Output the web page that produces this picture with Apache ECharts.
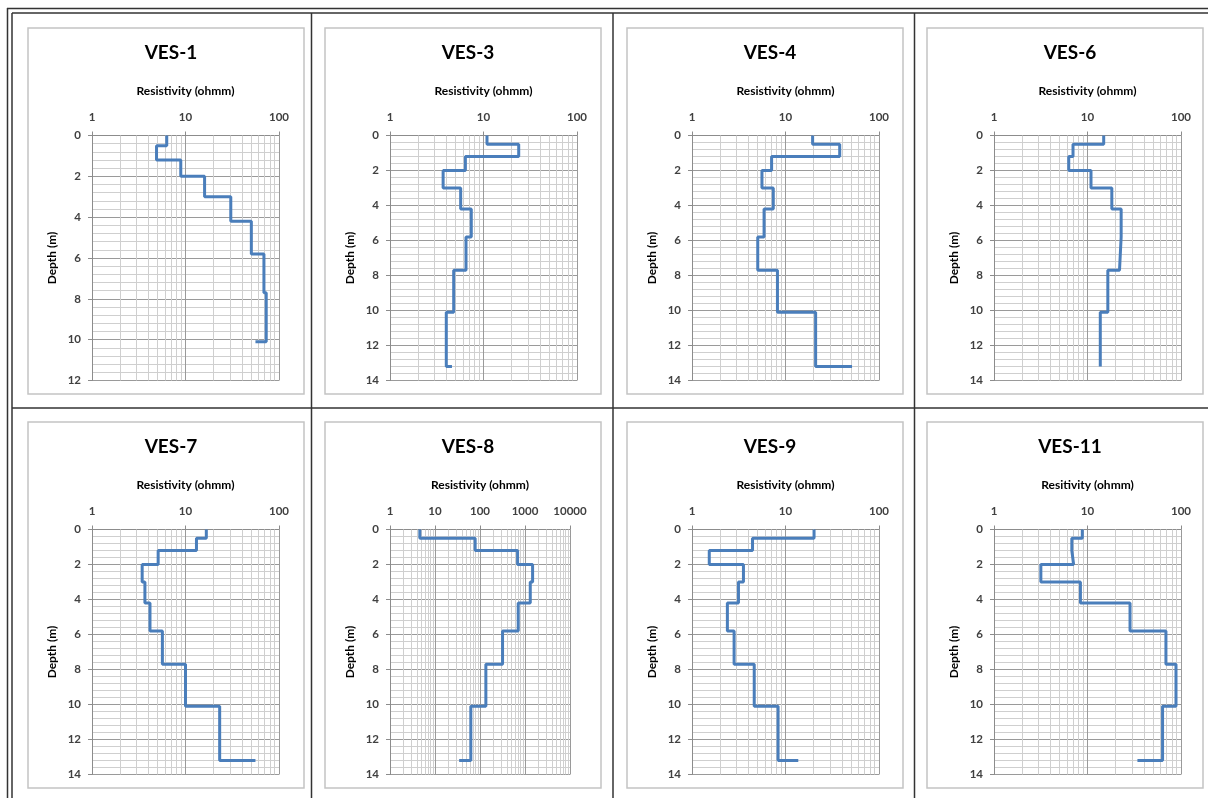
<!DOCTYPE html>
<html>
<head>
<meta charset="utf-8">
<script src="https://cdn.jsdelivr.net/npm/echarts@6/dist/echarts.min.js"></script>
<style>
  html, body { margin: 0; padding: 0; background: #fff; }
  #main { width: 1208px; height: 798px; }
</style>
</head>
<body>
<div id="main"></div>
<script>
// layer tops in metres, same layering for every sounding
const layerTops = [0, 0.5, 1.2, 2.0, 3.0, 4.2, 5.8, 7.7, 10.1, 13.2];

const stations = ['VES-1', 'VES-3', 'VES-4', 'VES-6', 'VES-7', 'VES-8', 'VES-9', 'VES-11'];
const xTitles = ['Resistivity (ohmm)', 'Resistivity (ohmm)', 'Resistivity (ohmm)', 'Resistivity (ohmm)',
                 'Resistivity (ohmm)', 'Resistivity (ohmm)', 'Resistivity (ohmm)', 'Resitivity (ohmm)'];
const depthMax = [12, 14, 14, 14, 14, 14, 14, 14];
const rhoMax = [100, 100, 100, 100, 100, 10000, 100, 100];

// resistivity per layer (ohmm), last value = half-space stub
const ves1 = [6.3, 4.9, 8.9, 16, 30.5, 50.6, 69, 73, 56];
const ves3 = [10.9, 23.8, 6.4, 3.7, 5.7, 7.4, 6.5, 4.8, 4.0, 4.6];
const ves4 = [19.5, 38, 7.1, 5.6, 7.4, 5.9, 5.05, 8.2, 21, 51.5];
const ves6 = [14.9, 7.0, 6.3, 10.9, 18.2, 22.9, 22.0, 16.5, 13.7, 13.9];
const ves7 = [16.7, 13.1, 5.1, 3.44, 3.68, 4.17, 5.66, 10, 23.2, 56];
const ves8 = [4.6, 78, 684, 1475, 1309, 707, 317, 135, 62.5, 34.4];
const ves9 = [20.2, 4.44, 1.53, 3.55, 3.14, 2.39, 2.82, 4.63, 8.33, 13.7];
const ves11 = [8.8, 6.8, 7.1, 3.17, 8.4, 28.5, 69, 88.4, 63.5, 34.2];
const profiles = [ves1, ves3, ves4, ves6, ves7, ves8, ves9, ves11];

// page layout
const boxLeft = [28, 325, 627, 927];
const boxTop = [28, 422];
const boxW = 276, boxH = 366;
const plotLeft = [92, 390, 692, 994];
const FONT = 'Lato, "Liberation Sans", sans-serif';

function stepPoints(rho) {
  const pts = [];
  for (let i = 0; i < rho.length - 1; i++) {
    pts.push([rho[i], layerTops[i]]);
    pts.push([rho[i], layerTops[i + 1]]);
  }
  pts.push([rho[rho.length - 1], layerTops[rho.length - 1]]);
  return pts;
}

// minor gridlines 2..9 inside each decade
function logMinor(max) {
  const v = [];
  for (let d = 1; d < max; d *= 10) {
    for (let k = 2; k <= 9; k++) v.push({ xAxis: k * d });
  }
  return v;
}

const chart = echarts.init(document.getElementById('main'));

const titles = [], grids = [], xAxes = [], yAxes = [], series = [];
const graphics = [];

for (let i = 0; i < stations.length; i++) {
  const col = i % 4, row = Math.floor(i / 4);
  const bx = boxLeft[col], by = boxTop[row];

  graphics.push({
    type: 'rect', z: 0,
    shape: { x: bx, y: by, width: boxW, height: boxH },
    style: { fill: 'none', stroke: '#c4c4c4', lineWidth: 1.5 }
  });

  titles.push({
    text: stations[i],
    left: bx + boxW / 2,
    top: by + 10,
    textAlign: 'center',
    textStyle: { fontFamily: FONT, fontSize: 19, fontWeight: 'bold', color: '#000' }
  });

  grids.push({
    left: plotLeft[col],
    top: by + 107.5,
    width: rhoMax[i] > 100 ? 180 : 187,
    height: 245,
    outerBoundsMode: 'none'
  });

  xAxes.push({
    type: 'log',
    logBase: 10,
    gridIndex: i,
    position: 'top',
    min: 1,
    max: rhoMax[i],
    name: xTitles[i],
    nameLocation: 'middle',
    nameGap: 38,
    nameTextStyle: { fontFamily: FONT, fontSize: 12, fontWeight: 'bold', color: '#000' },
    axisLine: { show: true, lineStyle: { color: '#8c8c8c', width: 1 } },
    axisTick: { show: true, length: 4, lineStyle: { color: '#8c8c8c' } },
    axisLabel: {
      fontFamily: FONT, fontSize: 11.5, fontWeight: 'bold', color: '#404040', margin: 12,
      formatter: function (v) { return String(Math.round(v)); }
    },
    splitLine: { show: true, lineStyle: { color: '#9a9a9a', width: 1 } }
  });

  yAxes.push({
    type: 'value',
    gridIndex: i,
    inverse: true,
    min: 0,
    max: depthMax[i],
    interval: 2,
    name: 'Depth (m)',
    nameLocation: 'middle',
    nameGap: 34,
    nameTextStyle: { fontFamily: FONT, fontSize: 12, fontWeight: 'bold', color: '#000' },
    axisLine: { show: true, lineStyle: { color: '#8c8c8c', width: 1 } },
    axisTick: { show: true, length: 4, lineStyle: { color: '#8c8c8c' } },
    minorTick: { show: false, splitNumber: 5 },
    axisLabel: { fontFamily: FONT, fontSize: 11.5, fontWeight: 'bold', color: '#404040', margin: 11 },
    splitLine: { show: true, lineStyle: { color: '#9a9a9a', width: 1 } },
    minorSplitLine: { show: true, lineStyle: { color: '#cfcfcf', width: 1 } }
  });

  series.push({
    type: 'line',
    xAxisIndex: i,
    yAxisIndex: i,
    data: stepPoints(profiles[i]),
    symbol: 'none',
    z: 3,
    lineStyle: { color: '#4a7ebb', width: 3 },
    itemStyle: { color: '#4a7ebb' },
    animation: false,
    markLine: {
      silent: true,
      z: 1,
      symbol: ['none', 'none'],
      label: { show: false },
      emphasis: { disabled: true },
      animation: false,
      lineStyle: { color: '#cfcfcf', width: 1, type: 'solid' },
      data: logMinor(rhoMax[i])
    }
  });
}

// table rules
const rule = { stroke: '#333', lineWidth: 1.5 };
[
  [7, 8.5, 1208, 8.5], [12, 13, 1208, 13],
  [7.5, 8, 7.5, 798], [12, 13, 12, 798],
  [12, 408, 1208, 408],
  [311.5, 13, 311.5, 798], [613, 13, 613, 798], [914.5, 13, 914.5, 798]
].forEach(function (l) {
  graphics.push({ type: 'line', z: 10, shape: { x1: l[0], y1: l[1], x2: l[2], y2: l[3] }, style: rule });
});

chart.setOption({
  animation: false,
  backgroundColor: '#fff',
  title: titles,
  grid: grids,
  xAxis: xAxes,
  yAxis: yAxes,
  series: series,
  graphic: graphics
});
</script>
</body>
</html>
